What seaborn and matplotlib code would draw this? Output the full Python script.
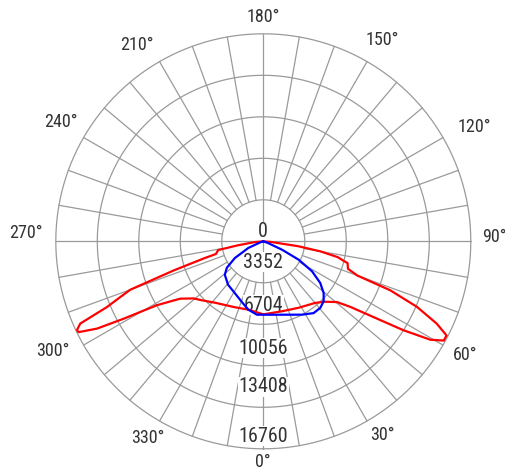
import numpy as np
import pandas as pd
import seaborn as sns
import matplotlib
matplotlib.use("Agg")
import matplotlib.pyplot as plt
from matplotlib import font_manager

# candela values, angle in degrees (0 = down, 90 = right)
red_angles = [-90, -85, -81, -79, -75, -74, -72, -70, -68.7, -67.2,
              -65.8, -64.5, -63.8, -62.3, -61, -59, -55.4, -50.6, -47, -38,
              -24, -12, 0, 15, 28, 40, 45, 50.5, 53, 55.5,
              57.6, 59.5, 61.2, 62.8, 64.6, 66.9, 68.9, 70, 72, 75.5,
              76.5, 78, 80, 82, 85, 90]
red_cd = [0, 650, 2100, 3715, 3960, 4930, 7590, 11430, 12400, 13690,
          16210, 16680, 16620, 15170, 12900, 10015, 8160, 7270, 6950, 6300,
          5815, 5650, 5900, 5850, 6080, 6500, 6905, 7715, 8800, 10820,
          13410, 15670, 16640, 16640, 15510, 13490, 10985, 8080, 7190, 7030,
          6620, 6140, 4685, 2830, 650, 0]

blue_angles = [-90, -70, -66, -59.5, -54, -49, -39, -29, -20, -12.4, -5, 0,
               14, 27.8, 35, 40.5, 45.2, 49.4, 53.8, 58.4, 62.5, 65.8, 70, 90]
blue_cd = [0, 320, 1330, 2670, 3640, 4120, 4520, 4770, 5170, 5650, 5950, 5930,
           6110, 6700, 7080, 7080, 6870, 6420, 5700, 4620, 3230, 1660, 400, 0]

ring_values = [3352, 6704, 10056, 13408, 16760]
angle_labels = [0, 30, 60, 90, 120, 150, 180, 210, 240, 270, 300, 330]

sns.set_style("white")

# pick a narrow face if one is around, the reference font is condensed
names = {f.name for f in font_manager.fontManager.ttflist}
font = "Roboto"
for cand in ["Roboto Condensed", "Liberation Sans Narrow", "DejaVu Sans Condensed"]:
    if cand in names:
        font = cand
        break
plt.rcParams["font.family"] = [font, "DejaVu Sans"]

df = pd.concat([
    pd.DataFrame({"angle": red_angles, "cd": red_cd, "series": "red"}),
    pd.DataFrame({"angle": blue_angles, "cd": blue_cd, "series": "blue"}),
])
df["theta"] = np.deg2rad(df["angle"])

W, H = 506, 470
cx, cy, R = 263.3, 241.3, 207.5
fig = plt.figure(figsize=(W / 100, H / 100), dpi=100)
ax = fig.add_axes([(cx - R) / W, (H - cy - R) / H, 2 * R / W, 2 * R / H],
                  projection="polar")
ax.set_theta_zero_location("S")
ax.set_theta_direction(1)
ax.grid(False)
ax.spines["polar"].set_visible(False)

rmax = ring_values[-1]
px = rmax / R  # candela per pixel
grid_col = "#9a9a9a"

# rings
th = np.linspace(0, 2 * np.pi, 721)
for v in ring_values:
    ax.plot(th, np.full_like(th, v), color=grid_col, lw=0.9, zorder=1, clip_on=False)

# spokes every 10 deg, only the main axes go through the centre
for a in range(0, 360, 10):
    r0 = 0 if a % 90 == 0 else ring_values[0]
    ax.plot([np.deg2rad(a)] * 2, [r0, rmax], color=grid_col, lw=0.9, zorder=1,
            clip_on=False)

# radial value labels down the 0 deg axis
txt_col = "#333333"
box = dict(facecolor="white", edgecolor="none", pad=0.5)
ax.text(np.pi, 9.6 * px, "0", ha="center", va="center", fontsize=14.5,
        color=txt_col, bbox=box, zorder=3)
label_off = [20.6, 19, 17.5, 20.6, 12.6]
for v, off in zip(ring_values, label_off):
    ax.text(0, v - off * px, str(v), ha="center", va="center", fontsize=14.5,
            color=txt_col, bbox=box, zorder=3)

# angle labels around the circle, pixel offsets from the centre (x right, y down)
label_xy = {0: (0, 220.4), 30: (118.7, 193.7), 60: (201.7, 114.2),
            90: (230.7, -4), 120: (211, -114.6), 150: (118.7, -201.3),
            180: (0, -224.6), 210: (-126.3, -196.3), 240: (-202.6, -119.6),
            270: (-237.5, -8), 300: (-210.8, 109.5), 330: (-115.3, 196.7)}
for a in angle_labels:
    dx, dy = label_xy[a]
    ax.annotate(f"{a}°", xy=(0, 0), xytext=(dx * 0.72, -dy * 0.72),
                textcoords="offset points", ha="center", va="center",
                fontsize=13, color=txt_col, annotation_clip=False)

sns.lineplot(data=df, x="theta", y="cd", hue="series",
             palette={"red": "#ff0000", "blue": "#0000ff"},
             sort=False, estimator=None, legend=False, linewidth=1.6,
             ax=ax, zorder=5)

ax.set_xlim(0, 2 * np.pi)
ax.set_ylim(0, rmax)
ax.set_xticks([])
ax.set_yticks([])
ax.set_xlabel("")
ax.set_ylabel("")

fig.savefig("out.png", dpi=100)
